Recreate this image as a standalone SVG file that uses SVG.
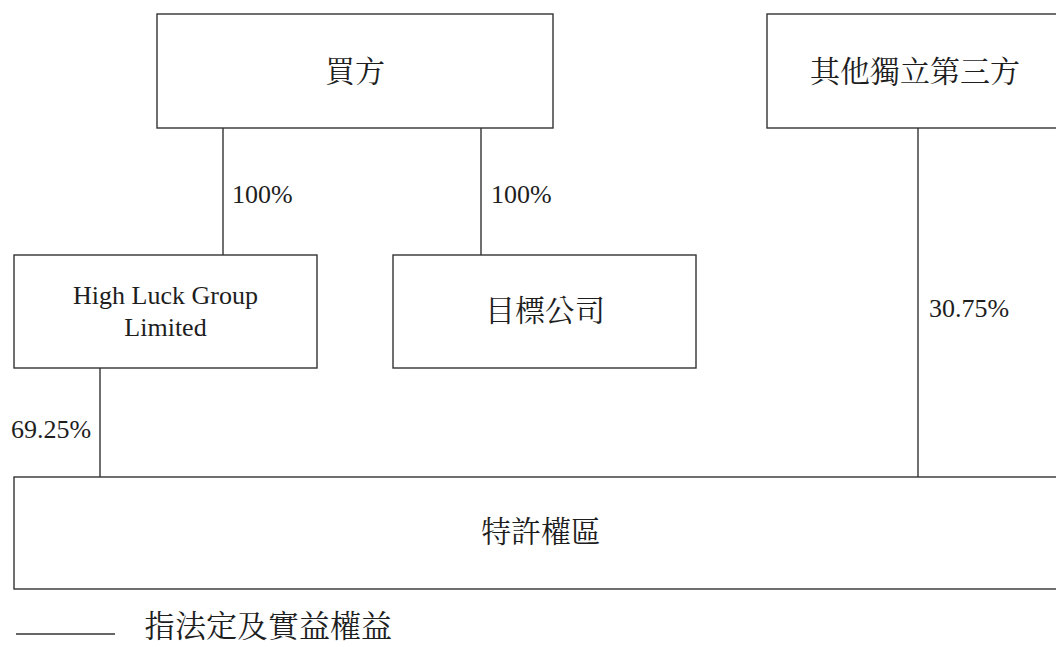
<svg xmlns="http://www.w3.org/2000/svg" width="1056" height="647" viewBox="0 0 1056 647">
  <style>
    .box { fill: #ffffff; stroke: #333333; stroke-width: 1.4; }
    .conn line { stroke: #333333; stroke-width: 1.4; }
    .en { font-family: "Liberation Serif", "Times New Roman", serif; font-size: 26px; fill: #1e1e1e; }
    .zh { font-family: "Noto Serif CJK TC", "Noto Sans CJK TC", "Noto Sans CJK SC", sans-serif; font-size: 30px; fill: #1e1e1e; }
    .mid { text-anchor: middle; }
  </style>
  <rect width="1056" height="647" fill="#ffffff"/>
  <g id="connectors" class="conn">
    <line x1="223" y1="128" x2="223" y2="255"/>
    <line x1="481" y1="128" x2="481" y2="255"/>
    <line x1="100" y1="368" x2="100" y2="477"/>
    <line x1="918" y1="128" x2="918" y2="477"/>
    <text class="en" x="232" y="203">100%</text>
    <text class="en" x="491" y="203">100%</text>
    <text class="en" x="11" y="438">69.25%</text>
    <text class="en" x="929" y="317">30.75%</text>
  </g>
  <g id="buyer">
    <rect class="box" x="157" y="14" width="396" height="114"/>
    <text class="zh mid" x="355" y="82">買方</text>
  </g>
  <g id="others">
    <rect class="box" x="767" y="14" width="300" height="114"/>
    <text class="zh mid" x="915" y="82">其他獨立第三方</text>
  </g>
  <g id="highluck">
    <rect class="box" x="14" y="255" width="303" height="113"/>
    <text class="en mid" x="165.5" y="304">High Luck Group</text>
    <text class="en mid" x="165.5" y="336">Limited</text>
  </g>
  <g id="target">
    <rect class="box" x="393" y="255" width="303" height="113"/>
    <text class="zh mid" x="545" y="321">目標公司</text>
  </g>
  <g id="franchise">
    <rect class="box" x="14" y="477" width="1054" height="112"/>
    <text class="zh mid" x="541" y="542">特許權區</text>
  </g>
  <g id="legend">
    <line x1="16" y1="634" x2="115" y2="634" stroke="#333333" stroke-width="1.4"/>
    <text class="zh" x="144" y="637" style="font-size:31px">指法定及實益權益</text>
  </g>
</svg>
